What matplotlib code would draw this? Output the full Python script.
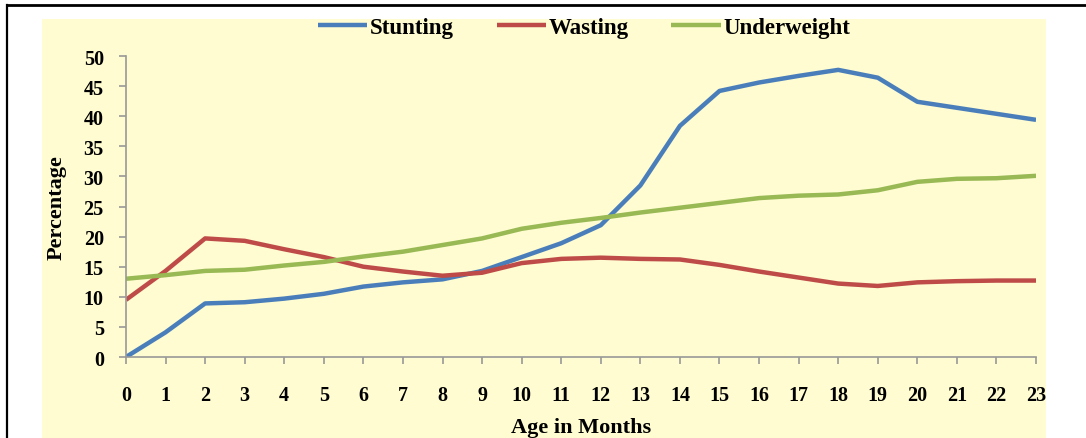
import matplotlib.pyplot as plt
from matplotlib.patches import Rectangle
from matplotlib.lines import Line2D

# Age in months and prevalence (%) of each indicator
months = list(range(24))
stunting = [0.0, 4.1, 8.9, 9.1, 9.7, 10.5, 11.7, 12.4, 12.9, 14.3, 16.6, 18.9,
            21.9, 28.5, 38.4, 44.2, 45.6, 46.7, 47.7, 46.4, 42.4, 41.4, 40.4, 39.4]
wasting = [9.5, 14.3, 19.7, 19.3, 17.9, 16.6, 15.0, 14.2, 13.5, 14.0, 15.6, 16.3,
           16.5, 16.3, 16.2, 15.3, 14.2, 13.2, 12.2, 11.8, 12.4, 12.6, 12.7, 12.7]
underweight = [13.0, 13.6, 14.3, 14.5, 15.2, 15.8, 16.7, 17.5, 18.6, 19.7, 21.3, 22.3,
               23.1, 24.0, 24.8, 25.6, 26.4, 26.8, 27.0, 27.7, 29.1, 29.6, 29.7, 30.1]

plt.rcParams['font.family'] = 'Liberation Serif'
plt.rcParams['font.weight'] = 'bold'

fig = plt.figure(figsize=(10.86, 4.39), dpi=100)

# Pale yellow chart area and the black border strokes
fig.patches.append(Rectangle((0.0387, 0.0), 0.9245, 0.9544, transform=fig.transFigure,
                             facecolor='#FEFCD0', edgecolor='none', zorder=-5))
fig.add_artist(Line2D([0.0065, 1.0], [0.9852, 0.9852], color='black', lw=2.0))
fig.add_artist(Line2D([0.0069, 0.0069], [0.0, 0.9852], color='black', lw=1.6))

ax = fig.add_axes([0.116, 0.1845, 0.838, 0.6856])
ax.set_facecolor('none')

ax.plot(months, stunting, color='#4A7EBB', lw=3.2, label='Stunting', solid_capstyle='butt')
ax.plot(months, wasting, color='#BE4B48', lw=3.2, label='Wasting', solid_capstyle='butt')
ax.plot(months, underweight, color='#98B954', lw=3.2, label='Underweight', solid_capstyle='butt')

ax.set_xlim(0, 23)
ax.set_ylim(0, 50)
ax.set_xticks(months)
ax.set_yticks(range(0, 51, 5))
ax.tick_params(axis='both', colors='#999999', length=5, width=1.2, labelcolor='black',
               labelsize=14.5)
ax.tick_params(axis='x', pad=15)
ax.tick_params(axis='y', pad=11)
for sp in ['top', 'right']:
    ax.spines[sp].set_visible(False)
for sp in ['left', 'bottom']:
    ax.spines[sp].set_color('#999999')
    ax.spines[sp].set_linewidth(1.2)

ax.set_xlabel('Age in Months', fontsize=16, fontweight='bold', labelpad=9)
ax.set_ylabel('Percentage', fontsize=16, fontweight='bold', labelpad=12)

fig.legend(loc='center', bbox_to_anchor=(0.538, 0.936), ncol=3, frameon=False,
           fontsize=16.5, handlelength=2.15, handletextpad=0.13, columnspacing=1.85)

fig.savefig('out.png', dpi=100)
